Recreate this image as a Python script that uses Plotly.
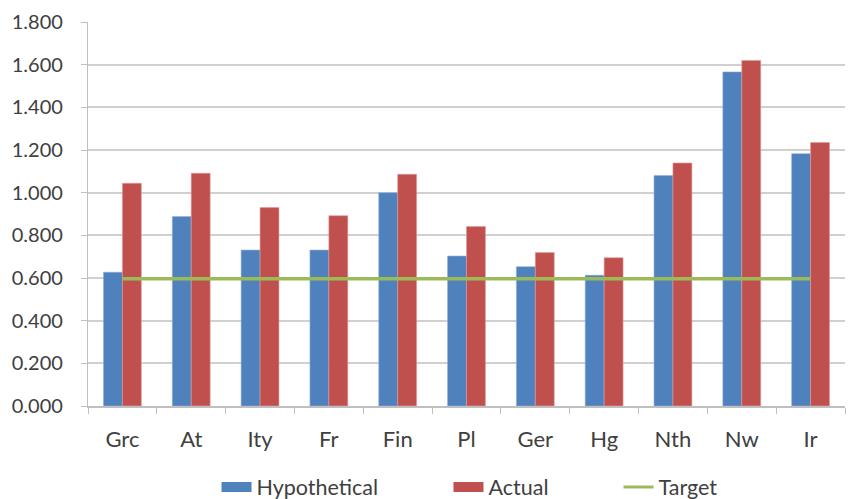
import plotly.graph_objects as go

categories = ["Grc", "At", "Ity", "Fr", "Fin", "Pl", "Ger", "Hg", "Nth", "Nw", "Ir"]
hypothetical = [0.627, 0.888, 0.731, 0.731, 1.000, 0.703, 0.653, 0.613, 1.080, 1.566, 1.183]
actual = [1.044, 1.091, 0.930, 0.892, 1.086, 0.841, 0.719, 0.695, 1.139, 1.620, 1.235]
target = [0.597] * len(categories)
y_ticks = [0, 0.2, 0.4, 0.6, 0.8, 1.0, 1.2, 1.4, 1.6, 1.8]

FONT = "Lato, 'Open Sans', sans-serif"
BLUE, RED, GREEN = "#4F81BD", "#C0504D", "#9BBB59"
TXT = "#404040"

fig = go.Figure()
fig.add_trace(go.Bar(name="Hypothetical", x=categories, y=hypothetical, showlegend=False,
                     marker=dict(color=BLUE, line=dict(color="#8fb0dc", width=0.6))))
fig.add_trace(go.Bar(name="Actual", x=categories, y=actual, showlegend=False,
                     marker=dict(color=RED, line=dict(color="#e29a98", width=0.6))))
fig.add_trace(go.Scatter(name="Target", x=categories, y=target, mode="lines",
                         showlegend=False, line=dict(color=GREEN, width=3.5)))
# legend entries styled like Excel keys
fig.add_trace(go.Scatter(name="Hypothetical", x=[None], y=[None], mode="lines",
                         line=dict(color=BLUE, width=10), legend="legend"))
fig.add_trace(go.Scatter(name="Actual", x=[None], y=[None], mode="lines",
                         line=dict(color=RED, width=10), legend="legend2"))
fig.add_trace(go.Scatter(name="Target", x=[None], y=[None], mode="lines",
                         line=dict(color=GREEN, width=3), legend="legend3"))

leg = dict(orientation="h", xanchor="left", y=-0.211, yanchor="middle",
           font=dict(size=21.5, color=TXT), itemwidth=30, bgcolor="rgba(0,0,0,0)")

fig.update_layout(
    width=846, height=491,
    margin=dict(l=80, r=9, t=14, b=93, autoexpand=False),
    paper_bgcolor="white", plot_bgcolor="white",
    barmode="group", bargap=0.45, bargroupgap=0,
    font=dict(family=FONT, size=20, color=TXT),
    legend=dict(leg, x=0.1698),
    legend2=dict(leg, x=0.4762),
    legend3=dict(leg, x=0.7008),
    showlegend=True,
)
fig.update_yaxes(range=[0, 1.8], tickvals=y_ticks, tickformat=".3f",
                 showgrid=True, gridcolor="#d0d0d0", gridwidth=1.5,
                 showline=True, linecolor="#bfbfbf", linewidth=1.2,
                 ticks="outside", ticklen=6, tickcolor="#bfbfbf",
                 ticklabelstandoff=14, zeroline=False)
fig.update_xaxes(showline=True, linecolor="#bfbfbf", linewidth=1.5,
                 ticks="outside", ticklen=6, tickcolor="#bfbfbf", tickson="boundaries",
                 ticklabelstandoff=13, showgrid=False, tickfont=dict(size=22))

fig.write_html("out.html")
